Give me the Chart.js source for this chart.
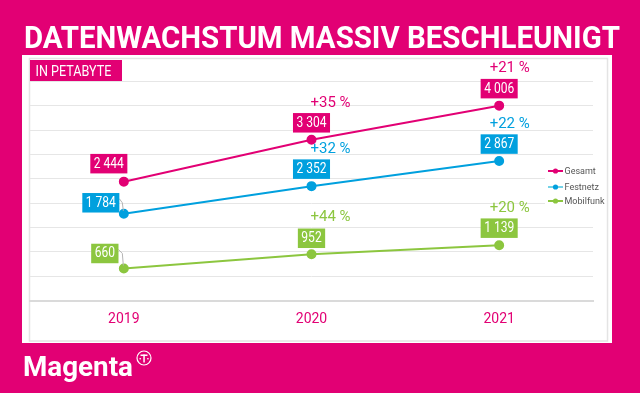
<!DOCTYPE html>
<html>
<head>
<meta charset="utf-8">
<script src="https://cdn.jsdelivr.net/npm/chart.js@4"></script>
<style>
  html, body { margin: 0; padding: 0; background: #e20074; }
  #wrap { position: relative; width: 640px; height: 393px; }
</style>
</head>
<body>
<div id="wrap"><canvas id="c" width="640" height="393"></canvas></div>
<script>
/* Datenwachstum chart — three line series with boxed values + growth notes. */
var YEARS = ['2019', '2020', '2021'];
var GESAMT = [2444, 3304, 4006];
var FESTNETZ = [1784, 2352, 2867];
var MOBILFUNK = [660, 952, 1139];
// growth vs. previous year, in percent
var GESAMT_GROWTH = [null, 35, 21];
var FESTNETZ_GROWTH = [null, 32, 22];
var MOBILFUNK_GROWTH = [null, 44, 20];
var SERIES_NAMES = ['Gesamt', 'Festnetz', 'Mobilfunk'];
var Y_MAX = 4500, Y_STEP = 500;

var MAGENTA = '#e20074', BLUE = '#00a0de', GREEN = '#8cc63f';
var FONT = 'Roboto, "Liberation Sans", sans-serif';

// where each value box sits relative to its point (box centre offset)
var BOX_SHIFT = [
  [{ dx: -15, dy: -18 }, { dx: 0, dy: -17 }, { dx: 0, dy: -17 }],
  [{ dx: -23, dy: -11 }, { dx: 0, dy: -17 }, { dx: 0, dy: -17 }],
  [{ dx: -19, dy: -15 }, { dx: 0, dy: -16 }, { dx: 0, dy: -17 }]
];
var PCT_SHIFT = [null, { dx: 19, dy: -37 }, { dx: 10.5, dy: -37 }];

function fmt(v) { return String(v).replace(/\B(?=(\d{3})+(?!\d))/g, ' '); }

// text with optional horizontal squeeze (no condensed font installed)
function txt(ctx, s, x, y, o) {
  ctx.save();
  ctx.font = o.font;
  ctx.fillStyle = o.color;
  ctx.textBaseline = o.baseline || 'middle';
  var w = ctx.measureText(s).width;
  var sx = o.width ? o.width / w : (o.sx || 1);
  ctx.translate(x, y);
  ctx.scale(sx, 1);
  var off = o.align === 'center' ? -w / 2 : (o.align === 'right' ? -w : 0);
  ctx.fillText(s, off, 0);
  ctx.restore();
  return w * sx;
}

var decor = {
  id: 'decor',
  beforeDraw: function (chart) {
    var ctx = chart.ctx;
    ctx.save();
    ctx.fillStyle = MAGENTA;
    ctx.fillRect(0, 0, 640, 393);
    ctx.fillStyle = '#fff';
    ctx.fillRect(22, 55, 590, 288);
    ctx.strokeStyle = '#e4e4e4';
    ctx.lineWidth = 1.5;
    ctx.strokeRect(29.5, 58.5, 578, 282.5);
    ctx.restore();

    txt(ctx, 'DATENWACHSTUM MASSIV BESCHLEUNIGT', 24, 48,
      { font: 'bold 32px ' + FONT, color: '#fff', baseline: 'alphabetic', width: 596 });

    ctx.fillStyle = MAGENTA;
    ctx.fillRect(30, 60, 92, 22);
    txt(ctx, 'IN PETABYTE', 35.5, 76,
      { font: '14px ' + FONT, color: '#fff', baseline: 'alphabetic', width: 76 });

    txt(ctx, 'Magenta', 23, 376,
      { font: 'bold 28px ' + FONT, color: '#fff', baseline: 'alphabetic', width: 110 });
    // small circled T mark
    ctx.save();
    ctx.strokeStyle = '#fff'; ctx.fillStyle = '#fff'; ctx.lineWidth = 1.2;
    ctx.beginPath(); ctx.arc(144, 358, 7, 0, Math.PI * 2); ctx.stroke();
    ctx.fillRect(140.5, 354.5, 7, 1.5);
    ctx.fillRect(143.3, 354.5, 1.5, 8);
    ctx.fillRect(139.5, 358, 1.4, 1.4);
    ctx.fillRect(147.2, 358, 1.4, 1.4);
    ctx.restore();
  },
  afterDatasetsDraw: function (chart) {
    var ctx = chart.ctx;
    var growth = [GESAMT_GROWTH, FESTNETZ_GROWTH, MOBILFUNK_GROWTH];
    chart.data.datasets.forEach(function (ds, di) {
      var meta = chart.getDatasetMeta(di);
      meta.data.forEach(function (pt, i) {
        var sh = BOX_SHIFT[di][i];
        var label = fmt(ds.data[i]);
        ctx.font = '14px ' + FONT;
        var tw = ctx.measureText(label).width * 0.86;
        var bw = tw + 7, bh = 19.5;
        var cx = pt.x + sh.dx, cy = pt.y + sh.dy;
        if (sh.dx !== 0 && di > 0) {
          // grey leader from box edge down to the point
          ctx.save();
          ctx.strokeStyle = '#b5b5b5'; ctx.lineWidth = 1;
          ctx.beginPath();
          ctx.moveTo(cx + bw / 2, cy - 4);
          ctx.lineTo(pt.x - 1.5, cy);
          ctx.lineTo(pt.x - 0.5, pt.y - 3);
          ctx.stroke();
          ctx.restore();
        }
        ctx.fillStyle = ds.borderColor;
        ctx.fillRect(cx - bw / 2, cy - bh / 2, bw, bh);
        txt(ctx, label, cx, cy + 0.5, { font: '14px ' + FONT, color: '#fff', align: 'center', sx: 0.86 });

        var g = growth[di][i];
        if (g != null) {
          var ps = PCT_SHIFT[i];
          txt(ctx, '+' + g + ' %', pt.x + ps.dx, pt.y + ps.dy,
            { font: '15px ' + FONT, color: ds.borderColor, align: 'center' });
        }
      });
    });
  },
  afterDraw: function (chart) {
    var ctx = chart.ctx;
    var lineCols = [MAGENTA, '#74d2e7', GREEN];
    var dotCols = [MAGENTA, BLUE, GREEN];
    var ys = [171, 187, 201];
    ctx.save();
    ctx.fillStyle = '#fff';
    ctx.fillRect(545, 164, 56, 44);
    SERIES_NAMES.forEach(function (n, i) {
      ctx.strokeStyle = lineCols[i]; ctx.lineWidth = 2;
      ctx.beginPath(); ctx.moveTo(548, ys[i]); ctx.lineTo(563, ys[i]); ctx.stroke();
      ctx.fillStyle = dotCols[i];
      ctx.beginPath(); ctx.arc(555.5, ys[i], 2.6, 0, Math.PI * 2); ctx.fill();
      txt(ctx, n, 564.5, ys[i] + 0.5, { font: '9px ' + FONT, color: '#555' });
    });
    ctx.restore();
  }
};

function series(label, data, color) {
  return {
    label: label, data: data,
    borderColor: color, backgroundColor: color,
    pointBackgroundColor: color, pointBorderColor: color,
    borderWidth: 2, pointRadius: 4, pointHoverRadius: 4,
    tension: 0
  };
}

new Chart(document.getElementById('c'), {
  type: 'line',
  data: {
    labels: YEARS,
    datasets: [
      series(SERIES_NAMES[0], GESAMT, MAGENTA),
      series(SERIES_NAMES[1], FESTNETZ, BLUE),
      series(SERIES_NAMES[2], MOBILFUNK, GREEN)
    ]
  },
  options: {
    responsive: false, animation: false,
    layout: { padding: { left: 30, right: 47, top: 81.6, bottom: 0 } },
    plugins: { legend: { display: false }, tooltip: { enabled: false } },
    scales: {
      x: {
        offset: true,
        grid: { display: false, drawTicks: false },
        border: { display: true, color: '#dadada', width: 2 },
        ticks: { color: MAGENTA, font: { family: FONT, size: 14 }, padding: 10 },
        afterFit: function (s) { s.height = 92.4; }
      },
      y: {
        min: 0, max: Y_MAX,
        ticks: { display: false, stepSize: Y_STEP },
        grid: { color: '#e6e6e6', lineWidth: 1, drawTicks: false },
        border: { display: false },
        afterFit: function (s) { s.width = 0; }
      }
    }
  },
  plugins: [decor]
});
</script>
</body>
</html>
